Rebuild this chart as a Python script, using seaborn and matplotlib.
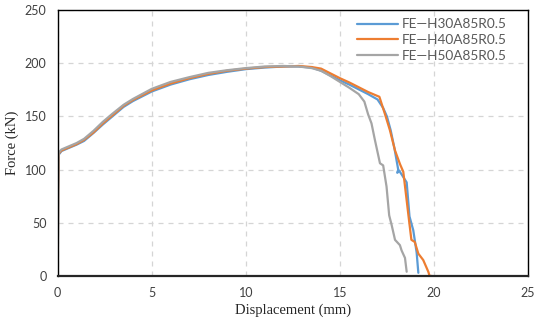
import numpy as np
import pandas as pd
import matplotlib
matplotlib.use("Agg")
import matplotlib.pyplot as plt
import seaborn as sns

# Force-displacement curves
SERIES = ["FE\u2014H30A85R0.5", "FE\u2014H40A85R0.5", "FE\u2014H50A85R0.5"]
COLORS = ["#5B9BD5", "#ED7D31", "#A5A5A5"]

x_h30 = [0, 0.02, 0.05, 0.2, 0.6, 1.0, 1.4, 1.9, 2.4, 2.9, 3.5, 4.0, 5.0, 6.0,
         7.0, 8.0, 9.0, 10.0, 11.0, 12.0, 12.8, 13.5, 14.0, 14.5, 15.0, 15.5,
         16.0, 16.5, 17.0, 17.3, 17.5, 17.7, 17.9, 18.1, 18.05, 18.15, 18.3,
         18.55, 18.7, 18.9, 19.08, 19.17]
y_h30 = [0, 80, 114, 117.5, 120.5, 123.5, 127, 134.5, 142.5, 150, 159, 164.5,
         173.5, 180, 185, 189, 192, 194.5, 196, 197, 197, 196, 193, 188.5, 184,
         180, 175.5, 171, 166, 158, 150, 137, 120, 100, 97, 99, 95, 88, 56, 43,
         22, 3]

x_h40 = [0, 0.02, 0.05, 0.2, 0.6, 1.0, 1.4, 1.9, 2.4, 2.9, 3.5, 4.0, 5.0, 6.0,
         7.0, 8.0, 9.0, 10.0, 11.0, 12.0, 12.8, 13.5, 14.0, 14.5, 15.0, 15.5,
         16.0, 16.5, 17.1, 17.4, 17.66, 17.93, 18.2, 18.37, 18.63, 18.8, 18.98,
         19.17, 19.43, 19.7, 19.77, 19.9]
y_h40 = [0, 80, 115, 118, 121, 124, 128, 135, 143.5, 151, 160, 165.5, 174.5,
         181, 186, 190, 193, 195, 196.5, 197, 197.5, 196.5, 195, 190.5, 186,
         182, 177.5, 173, 168.5, 152, 137, 118, 105, 98, 59, 34, 32, 21, 15, 4,
         0, 0]

x_h50 = [0, 0.02, 0.05, 0.2, 0.6, 1.0, 1.4, 1.9, 2.4, 2.9, 3.5, 4.0, 5.0, 6.0,
         7.0, 8.0, 9.0, 10.0, 11.0, 12.0, 12.8, 13.5, 14.0, 14.5, 15.0, 15.5,
         16.0, 16.3, 16.5, 16.68, 16.86, 17.13, 17.3, 17.48, 17.62, 17.75, 17.93,
         18.19, 18.28, 18.46, 18.55]
y_h50 = [0, 80, 116, 119, 122, 125, 129, 136.5, 145, 152.5, 161, 166.5, 176,
         182.5, 187, 191, 193.5, 195.5, 197, 197.5, 197, 195.5, 193, 188, 182.5,
         177, 171, 164, 152, 143.5, 128, 106, 104, 84, 57, 48, 34, 29, 24, 17, 4]


def main() -> None:
    frames = []
    for name, xs, ys in zip(SERIES, [x_h30, x_h40, x_h50], [y_h30, y_h40, y_h50]):
        frames.append(pd.DataFrame({"disp": xs, "force": ys, "model": name,
                                    "order": np.arange(len(xs))}))
    df = pd.concat(frames, ignore_index=True)

    sns.set_style("white")
    plt.rcParams["font.family"] = ["Lato", "DejaVu Sans"]

    fig = plt.figure(figsize=(5.5, 3.27), dpi=100)
    ax = fig.add_axes([0.105, 0.156, 0.855, 0.813])

    sns.lineplot(data=df, x="disp", y="force", hue="model", hue_order=SERIES,
                 palette=COLORS, sort=False, estimator=None, units="model",
                 linewidth=1.6, ax=ax)

    ax.set_xlim(0, 25)
    ax.set_ylim(0, 250)
    ax.set_xticks(range(0, 26, 5))
    ax.set_yticks(range(0, 251, 50))
    ax.grid(True, color="#D5D5D5", linestyle=(0, (4, 4)), linewidth=0.9)
    ax.tick_params(labelsize=9, colors="#404040", length=0, pad=8)
    for side in ["top", "right", "left"]:
        ax.spines[side].set_color("black")
        ax.spines[side].set_linewidth(1.0)
    ax.spines["bottom"].set_color("#262626")
    ax.spines["bottom"].set_linewidth(1.6)

    ax.set_xlabel("Displacement (mm)", family="Liberation Serif", fontsize=10.5,
                  labelpad=3)
    ax.set_ylabel("Force (kN)", family="Liberation Serif", fontsize=10.5,
                  labelpad=4)

    leg = ax.legend(loc="upper right", frameon=False, fontsize=9.8,
                    handlelength=3.0, handletextpad=0.3, labelspacing=0.28,
                    borderaxespad=0.3, bbox_to_anchor=(0.975, 1.005))
    for t in leg.get_texts():
        t.set_color("#595959")

    fig.savefig("out.png", dpi=100)


if __name__ == "__main__":
    main()
